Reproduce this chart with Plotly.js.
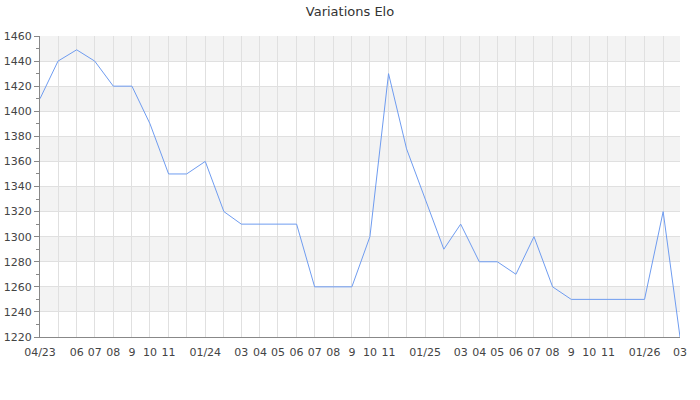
<!DOCTYPE html>
<html><head><meta charset="utf-8">
<script src="https://cdn.plot.ly/plotly-3.0.1.min.js"></script>
<style>body{margin:0;padding:0;}#c{width:700px;height:400px;}</style>
</head><body><div id="c"></div>
<script>
const months = ["2023-04-01","2023-05-01","2023-06-01","2023-07-01","2023-08-01","2023-09-01","2023-10-01","2023-11-01","2023-12-01",
"2024-01-01","2024-02-01","2024-03-01","2024-04-01","2024-05-01","2024-06-01","2024-07-01","2024-08-01","2024-09-01","2024-10-01","2024-11-01","2024-12-01",
"2025-01-01","2025-02-01","2025-03-01","2025-04-01","2025-05-01","2025-06-01","2025-07-01","2025-08-01","2025-09-01","2025-10-01","2025-11-01","2025-12-01",
"2026-01-01","2026-02-01","2026-03-01"];
const elo = [1410,1440,1449,1440,1420,1420,1390,1350,1350,
1360,1320,1310,1310,1310,1310,1260,1260,1260,1300,1430,1370,
1330,1290,1310,1280,1280,1270,1300,1260,1250,1250,1250,1250,
1250,1320,1220];
const tickLabels = ["04/23","","06","07","08","9","10","11","",
"01/24","","03","04","05","06","07","08","9","10","11","",
"01/25","","03","04","05","06","07","08","9","10","11","",
"01/26","","03"];
const yTicks = [1220,1240,1260,1280,1300,1320,1340,1360,1380,1400,1420,1440,1460];
const bands = [[1240,1260],[1280,1300],[1320,1340],[1360,1380],[1400,1420],[1440,1460]];

const shapes = bands.map(b => ({type:'rect', xref:'paper', yref:'y', x0:0, x1:1, y0:b[0], y1:b[1],
  fillcolor:'#f3f3f3', line:{width:0}, layer:'below'}));

Plotly.newPlot('c', [{
  x: months, y: elo, type:'scatter', mode:'lines',
  line:{color:'#6f9cf0', width:1}, hoverinfo:'x+y'
}], {
  width:700, height:400,
  margin:{l:40, r:20, t:36, b:63},
  paper_bgcolor:'#fff', plot_bgcolor:'rgba(0,0,0,0)',
  font:{family:'DejaVu Sans', size:11, color:'#444'},
  title:{text:'Variations Elo', x:0.5, xanchor:'center', y:0.982, yanchor:'top', font:{size:13, color:'#333'}},
  showlegend:false,
  shapes: shapes,
  xaxis:{type:'date', range:[months[0], months[months.length-1]], tickmode:'array', tickvals:months, ticktext:tickLabels,
    showgrid:true, gridcolor:'#e0e0e0', gridwidth:1, ticks:'', showline:true, linecolor:'#888', linewidth:1,
    zeroline:false, tickfont:{size:11, color:'#444'}, tickangle:0, ticklabelstandoff:5, fixedrange:true},
  yaxis:{range:[1220,1460], tickmode:'array', tickvals:yTicks, showgrid:true, gridcolor:'#e0e0e0', gridwidth:1,
    ticks:'outside', ticklen:5, tickcolor:'#888', showline:true, linecolor:'#888', linewidth:1, zeroline:false,
    tickfont:{size:11, color:'#444'},
    minor:{dtick:10, tick0:1220, ticks:'outside', ticklen:3, tickcolor:'#888', showgrid:false}, fixedrange:true}
}, {displayModeBar:false, staticPlot:true});
</script></body></html>
